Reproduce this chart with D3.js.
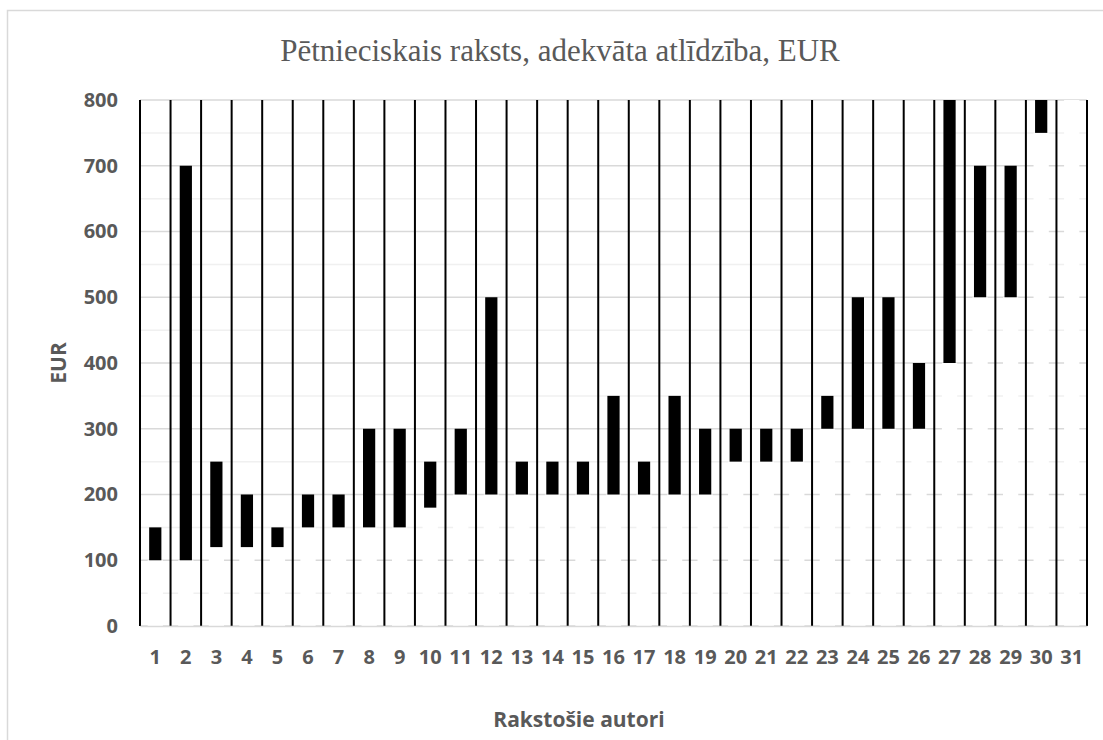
<!DOCTYPE html>
<html>
<head>
<meta charset="utf-8">
<script src="https://cdn.jsdelivr.net/npm/d3@7"></script>
<style>
  body { margin: 0; background: #fff; }
  svg { display: block; }
</style>
</head>
<body>
<div id="holder"></div>
<script>
// authors 1..31, lower and upper bound of the adequate fee (EUR)
var authors = d3.range(1, 32);
var lowVals  = [100, 100, 120, 120, 120, 150, 150, 150, 150, 180, 200, 200, 200, 200, 200, 200,
                200, 200, 200, 250, 250, 250, 300, 300, 300, 300, 400, 500, 500, 750, 800];
var highVals = [150, 700, 250, 200, 150, 200, 200, 300, 300, 250, 300, 500, 250, 250, 250, 350,
                250, 350, 300, 300, 300, 300, 350, 500, 500, 400, 800, 700, 700, 800, 800];
var yTicks = [0, 100, 200, 300, 400, 500, 600, 700, 800];
var yMinor = [50, 150, 250, 350, 450, 550, 650, 750];

var fullWidth = 1103;
var fullHeight = 740;
var margin = {top: 100, right: 16, bottom: 114, left: 140};
var width = fullWidth - margin.left - margin.right;
var height = fullHeight - margin.top - margin.bottom;

var data = authors.map(function(a, i) {
  return {author: a, low: lowVals[i], high: highVals[i]};
});

var svg = d3.select('#holder').append('svg')
  .attr('width', fullWidth)
  .attr('height', fullHeight);

// chart border
svg.append('rect')
  .attr('x', 7.5).attr('y', 10.5)
  .attr('width', fullWidth + 20).attr('height', fullHeight + 20)
  .attr('fill', 'none')
  .attr('stroke', '#d9d9d9')
  .attr('stroke-width', 1.5);

svg.append('text')
  .attr('x', 560)
  .attr('y', 61)
  .attr('text-anchor', 'middle')
  .style('font-family', '"Liberation Serif", "Times New Roman", serif')
  .style('font-size', '31px')
  .style('fill', '#595959')
  .text('Pētnieciskais raksts, adekvāta atlīdzība, EUR');

var g = svg.append('g')
  .attr('transform', 'translate(' + margin.left + ',' + margin.top + ')');

var xScale = d3.scaleBand()
  .domain(authors)
  .range([0, width])
  .paddingInner(0)
  .paddingOuter(0);

var yScale = d3.scaleLinear()
  .domain([0, 800])
  .range([height, 0]);

// minor gridlines
g.append('g').selectAll('line')
  .data(yMinor)
  .enter().append('line')
  .attr('x1', 0).attr('x2', width)
  .attr('y1', function(d) { return yScale(d); })
  .attr('y2', function(d) { return yScale(d); })
  .attr('stroke', '#f0f0f0')
  .attr('stroke-width', 1.5);

// major gridlines
g.append('g').selectAll('line')
  .data(yTicks)
  .enter().append('line')
  .attr('x1', 0).attr('x2', width)
  .attr('y1', function(d) { return yScale(d); })
  .attr('y2', function(d) { return yScale(d); })
  .attr('stroke', '#d9d9d9')
  .attr('stroke-width', 1.5);

var bw = xScale.bandwidth();

// invisible base series (white fill hides the gridlines below the bar)
g.append('g').selectAll('rect')
  .data(data)
  .enter().append('rect')
  .attr('x', function(d) { return xScale(d.author) + bw * 0.25; })
  .attr('width', bw * 0.5)
  .attr('y', function(d) { return yScale(d.low); })
  .attr('height', function(d) { return height - yScale(d.low); })
  .attr('fill', '#fff');

// range bars
g.append('g').selectAll('rect')
  .data(data)
  .enter().append('rect')
  .attr('x', function(d) { return xScale(d.author) + bw * 0.3; })
  .attr('width', bw * 0.4)
  .attr('y', function(d) { return yScale(d.high); })
  .attr('height', function(d) { return yScale(d.low) - yScale(d.high); })
  .attr('fill', '#000');

// separators between authors
var edges = authors.map(function(a) { return xScale(a); }).concat([width]);
g.append('g').selectAll('line')
  .data(edges)
  .enter().append('line')
  .attr('x1', function(d) { return d; })
  .attr('x2', function(d) { return d; })
  .attr('y1', yScale(0))
  .attr('y2', yScale(800))
  .attr('stroke', '#000')
  .attr('stroke-width', 2);

// axes
var x_axis = d3.axisBottom(xScale).tickSize(0).tickPadding(24);
var y_axis = d3.axisLeft(yScale).tickValues(yTicks).tickSize(0).tickPadding(22);

var xg = g.append('g')
  .attr('transform', 'translate(0,' + height + ')')
  .call(x_axis);
xg.select('.domain').attr('stroke', '#d9d9d9').attr('stroke-width', 1.5);

var yg = g.append('g').call(y_axis);
yg.select('.domain').remove();

g.selectAll('.tick text')
  .style('font-family', '"Open Sans", sans-serif')
  .style('font-weight', 'bold')
  .style('font-size', '20px')
  .style('fill', '#595959');

svg.append('text')
  .attr('x', 579)
  .attr('y', 727)
  .attr('text-anchor', 'middle')
  .style('font-family', '"Open Sans", sans-serif')
  .style('font-weight', 'bold')
  .style('font-size', '21px')
  .style('fill', '#595959')
  .text('Rakstošie autori');

svg.append('text')
  .attr('transform', 'translate(66,363) rotate(-90)')
  .attr('text-anchor', 'middle')
  .style('font-family', '"Open Sans", sans-serif')
  .style('font-weight', 'bold')
  .style('font-size', '21px')
  .style('fill', '#595959')
  .text('EUR');
</script>
</body>
</html>
